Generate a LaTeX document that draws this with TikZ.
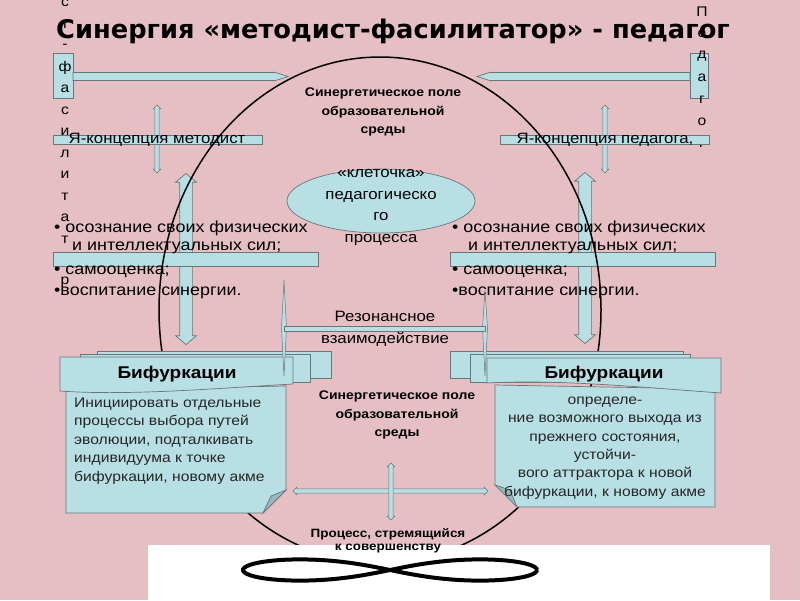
\documentclass[tikz,border=0pt]{standalone}
\usepackage{fontspec}
\setmainfont[FakeStretch=1.12]{Liberation Sans}
\newfontfamily\headfont{DejaVu Sans}
\usetikzlibrary{shapes.arrows,shapes.geometric,positioning}

\definecolor{slidepink}{RGB}{229,191,195}
\definecolor{paleblue}{RGB}{184,224,228}
\definecolor{edgegray}{RGB}{105,118,120}
\definecolor{flapblue}{RGB}{150,185,188}

\tikzset{
  bluefill/.style={fill=paleblue, draw=edgegray, line width=0.7pt},
  bigarrow/.style={bluefill, double arrow, inner xsep=0, inner ysep=6pt,
    double arrow head extend=4pt, double arrow tip angle=100},
  thinarrow/.style={bluefill, double arrow, inner xsep=0, inner ysep=1.8pt,
    double arrow head extend=1.8pt, double arrow tip angle=90, line width=0.5pt},
  colletter/.style={font=\fontsize{14}{14}\selectfont, inner sep=0},
  listtxt/.style={font=\fontsize{16}{19}\selectfont, inner sep=0, anchor=west},
  labeltxt/.style={font=\fontsize{15}{21.5}\selectfont, inner sep=0, align=center},
  fieldtxt/.style={font=\bfseries\fontsize{12.5}{18.5}\selectfont, inner sep=0, align=center},
  notetxt/.style={font=\fontsize{14}{18.4}\selectfont, inner sep=0, text=black!85},
  headtxt/.style={font=\bfseries\fontsize{17}{20}\selectfont, inner sep=0},
}

\begin{document}
\begin{tikzpicture}[x=1pt, y=-1pt]
\fill[slidepink] (0,0) rectangle (800,600);
\useasboundingbox (0,0) rectangle (800,600);

% pointers from the two columns
\node[bluefill, minimum width=20, minimum height=45, inner sep=0] (leftfoot) at (63,75.5) {};
\node[bluefill, minimum width=18, minimum height=45, inner sep=0] (rightfoot) at (699,75.5) {};
\draw[bluefill] (73,72.5) -- (274,72.5) -- (274,72) -- (288,76.5) -- (274,81) -- (274,80.5) -- (73,80.5) -- cycle;
\draw[bluefill] (690,72.5) -- (491,72.5) -- (491,72) -- (477,76.5) -- (491,81) -- (491,80.5) -- (690,80.5) -- cycle;

% thin links under the self-concept bars
\node[thinarrow, minimum height=68, rotate=90] (linkm) at (157,139) {};
\node[thinarrow, minimum height=68, rotate=90] (linkp) at (605,139) {};

% vertical words
\foreach \ch [count=\i from 0] in {с,т,-,ф,а,с,и,л,и,т,а,т,о,р}
  \node[colletter] (met\i) at (65,3+21.5*\i) {\ch};
\foreach \ch [count=\i from 0] in {П,е,д,а,г,о,г}
  \node[colletter] (ped\i) at (702,12+22*\i) {\ch};

% self-concept bars
\node[bluefill, minimum width=209, minimum height=9, inner sep=0] (selfm) at (157.5,140) {};
\node[labeltxt] (selfmtxt) at (157,140) {Я-концепция методист};
\node[bluefill, minimum width=209, minimum height=9, inner sep=0] (selfp) at (604.5,140) {};
\node[labeltxt] (selfptxt) at (605,140) {Я-концепция педагога,};

% big crosses
\node[bigarrow, minimum height=171, rotate=90] (crossm) at (186,259) {};
\node[bigarrow, minimum height=171, rotate=90] (crossp) at (585,258) {};
\node[bluefill, minimum width=265, minimum height=14, inner sep=0] (barm) at (185.5,259) {};
\node[bluefill, minimum width=265, minimum height=14, inner sep=0] (barp) at (582.5,259) {};

% lists
\node[listtxt] (lm1) at (54,228) {• осознание своих физических};
\node[listtxt] (lm2) at (72,248) {и интеллектуальных сил;};
\node[listtxt] (lm3) at (54,272) {• самооценка;};
\node[listtxt] (lm4) at (54,293) {•воспитание синергии.};
\node[listtxt] (lp1) at (452,228) {• осознание своих физических};
\node[listtxt] (lp2) at (468,248) {и интеллектуальных сил;};
\node[listtxt] (lp3) at (452,272) {• самооценка;};
\node[listtxt] (lp4) at (452,293) {•воспитание синергии.};

% field
\draw[line width=1.5pt] (380,310) ellipse [x radius=221, y radius=253];
\node[fieldtxt] (fieldtop) at (383,112) {Синергетическое поле\\образовательной\\среды};
\node[bluefill, ellipse, minimum width=188, minimum height=64] (cell) at (381,201) {};
\node[labeltxt] (celltxt) at (381,207.5) {«клеточка»\\педагогическо\\го\\процесса};

% bifurcation notes, left
\draw[bluefill] (97,351) rectangle (331,378);
\draw[bluefill] (80,354) rectangle (310,382);
\draw[bluefill] (66,390) -- (286,386) -- (286,490) -- (263,513) -- (66,513) -- cycle;
\draw[bluefill, fill=flapblue] (286,490) -- (271,496) -- (263,513) -- cycle;
\draw[bluefill] (60,357) -- (293,357) -- (293,384) .. controls (220,388) and (130,396) .. (60,391) -- cycle;
\node[headtxt] (bifm) at (177,374) {Бифуркации};
\node[notetxt, anchor=west, align=left] (notem) at (74,441)
  {Инициировать отдельные\\процессы выбора путей\\эволюции, подталкивать\\индивидуума к точке\\бифуркации, новому акме};

% bifurcation notes, right
\draw[bluefill] (450,351) rectangle (683,378);
\draw[bluefill] (470,354) rectangle (690,382);
\draw[bluefill] (495,385) -- (715,389) -- (715,507) -- (517,507) -- (495,485) -- cycle;
\draw[bluefill, fill=flapblue] (495,485) -- (510,490) -- (517,507) -- cycle;
\draw[bluefill] (487,358) -- (721,358) -- (721,393) .. controls (650,388) and (560,379) .. (487,383) -- cycle;
\node[headtxt] (bifp) at (604,374) {Бифуркации};
\node[notetxt, align=center] (notep) at (605,448)
  {определе-\\ние возможного выхода из\\прежнего состояния,\\устойчи-\\вого аттрактора к новой\\бифуркации, к новому акме};

% resonance link
\draw[bluefill, line width=0.5pt] (284,280) -- (286.5,328) -- (284,376) -- (281.5,328) -- cycle;
\draw[bluefill, line width=0.5pt] (485,290) -- (487.5,328) -- (485,376) -- (482.5,328) -- cycle;
\draw[bluefill, line width=0.5pt] (284,326) rectangle (485,331);
\node[labeltxt] (reson) at (385,329) {Резонансное\\взаимодействие};

\node[fieldtxt] (fieldmid) at (397,415) {Синергетическое поле\\образовательной\\среды};

% bottom cross
\node[thinarrow, minimum height=195] (flowh) at (390.5,491) {};
\node[thinarrow, minimum height=57, rotate=90] (flowv) at (391,491.5) {};

\fill[white] (148,545) rectangle (770,600);
\node[fieldtxt, font=\bfseries\fontsize{12}{13}\selectfont] (aim) at (388,541) {Процесс, стремящийся\\к совершенству};
\draw[line width=4pt] plot[domain=0:360, samples=120, smooth]
  ({390+147*cos(\x)/(1+sin(\x)^2)}, {570+30*sin(\x)*cos(\x)/(1+sin(\x)^2)});

% title
\node[font=\headfont\bfseries\fontsize{25.7}{30}\selectfont, anchor=base, inner sep=0] (title) at (393,38)
  {Синергия «методист-фасилитатор» - педагог};
\end{tikzpicture}
\end{document}
